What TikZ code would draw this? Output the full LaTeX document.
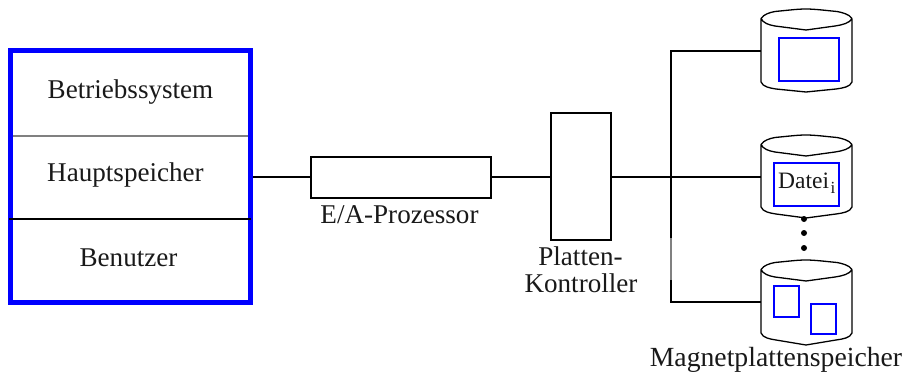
\documentclass[tikz,border=0pt]{standalone}
\usepackage{fontspec}
\setmainfont{Liberation Serif}
\definecolor{pureblue}{RGB}{0,0,255}
\newcommand{\drive}[4]{% name, top y, side end y, lowest y
  \draw[drumline] (761,#2+9.5) .. controls (764,#2+5) and (770,#2+3.5) .. (775,#2+2.5)
    -- (790,#2+1) .. controls (797,#2+.3) and (801,#2) .. (806,#2)
    .. controls (815,#2) and (826,#2+1.5) .. (837,#2+2.5)
    .. controls (842,#2+3.5) and (849,#2+5) .. (852,#2+9.5)
    .. controls (850,#2+14) and (842,#2+16) .. (835,#2+17)
    -- (806,#2+21) -- (775,#2+17)
    .. controls (769,#2+16) and (763,#2+14) .. (761,#2+9.5) -- (761,#3)
    .. controls (763,#3+5) and (770,#3+6) .. (776,#3+7)
    -- (806,#4) -- (836,#3+7)
    .. controls (843,#3+6) and (850,#3+5) .. (852,#3) -- (852,#2+9.5);
  \coordinate (#1) at (761,#2+42);
}
\tikzset{
  x=1pt,y=-1pt,
  every node/.style={font=\fontsize{27.1}{30}\selectfont,text=black!90,inner sep=0pt,anchor=base},
  drumline/.style={line width=1.3pt,black,line join=round},
  wire/.style={line width=1.5pt,black},
  boxnode/.style={draw=black,line width=1.5pt,rectangle,anchor=north west},
  fileframe/.style={draw=pureblue,line width=1.8pt,rectangle,anchor=north west},
  memframe/.style={draw=pureblue,line width=5pt,rectangle,anchor=north west},
  dotmark/.style={circle,fill=black,minimum size=6pt,anchor=center}
}
\begin{document}
\begin{tikzpicture}
\useasboundingbox (0,0) rectangle (903,372);
% main memory
\node[memframe,minimum width=240pt,minimum height=252pt] (mem) at (8,48) {};
\coordinate (gl) at (13,136); \coordinate (gr) at (248,136);
\coordinate (bl) at (9,219); \coordinate (br) at (251,219);
\draw[line width=1.2pt,black!50] (gl) -- (gr);
\draw[line width=1.3pt,black] (bl) -- (br);
\node (t1) at (130.5,98) {Betriebssystem};
\node (t2) at (125.5,181) {Hauptspeicher};
\node (t3) at (128.5,266) {Benutzer};
% E/A and controller
\node[boxnode,minimum width=180pt,minimum height=41pt] (ea) at (310.25,156.25) {};
\node[boxnode,minimum width=60pt,minimum height=127pt] (pk) at (550.25,112.25) {};
\node (ealab) at (399.5,223) {E/A-Prozessor};
\node (pklab1) at (580.5,265) {Platten-};
\node (pklab2) at (581,292) {Kontroller};
% drives
\drive{d1}{9}{82}{92}
\drive{d2}{135}{207}{218}
\drive{d3}{260}{333}{345}
\node[fileframe,minimum width=60pt,minimum height=43pt] (f1) at (778.1,37.1) {};
\node[fileframe,minimum width=65pt,minimum height=43pt] (f2) at (773.1,162.1) {};
\node[fileframe,minimum width=25pt,minimum height=31pt] (f3) at (773.1,285.1) {};
\node[fileframe,minimum width=25pt,minimum height=30pt] (f4) at (810.1,303.1) {};
\node[font=\fontsize{23.5}{25}\selectfont,anchor=base west] (dl) at (778,188) {Datei};
\node[font=\fontsize{17}{18}\selectfont,anchor=base west] (dli) at (830.5,193) {i};
\node[dotmark] (p1) at (804,219) {};
\node[dotmark] (p2) at (804,233) {};
\node[dotmark] (p3) at (804,248) {};
\node[font=\fontsize{27.7}{30}\selectfont] (mp) at (776,366) {Magnetplattenspeicher};
% connectors
\coordinate (tj) at (671,51);
\coordinate (mj) at (671,177);
\coordinate (bj) at (671,302);
\coordinate (g1) at (671,238);
\coordinate (g2) at (671,280);
\coordinate (memr) at (253,177);
\draw[wire] (memr) -- (ea.west |- memr);
\draw[wire] (ea.east |- memr) -- (pk.west |- memr);
\draw[wire] (pk.east |- memr) -- (d2);
\draw[wire] (d1) -- (tj) -- (mj) -- (g1);
\draw[line width=1.5pt,black!50] (g1) -- (g2);
\draw[wire] (g2) -- (bj) -- (d3);
\end{tikzpicture}
\end{document}
